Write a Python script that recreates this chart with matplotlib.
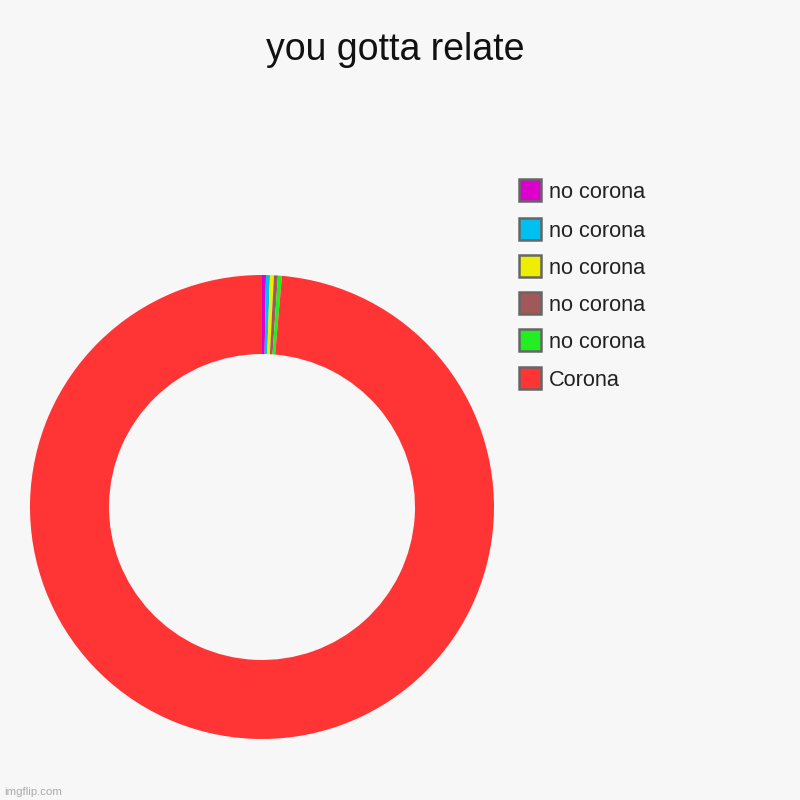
import matplotlib
matplotlib.use("Agg")
import matplotlib.pyplot as plt
from matplotlib.patches import Rectangle

# Data (clockwise from 12 o'clock)
labels = ["no corona", "no corona", "no corona", "no corona", "no corona", "Corona"]
values = [1, 1, 1, 1, 1, 360]
colors = ["#dd00cc", "#00c0f0", "#eeee00", "#a05858", "#22ee22", "#ff3535"]
title = "you gotta relate"

plt.rcParams['font.family'] = ['Liberation Sans', 'DejaVu Sans']
bg = "#f7f7f7"
fig = plt.figure(figsize=(8, 8), dpi=100, facecolor=bg)

# Donut axes: centre (262,507) px, radius 232 px
ax = fig.add_axes([(262 - 232) / 800, (293 - 232) / 800, 464 / 800, 464 / 800])
ax.set_facecolor(bg)
ax.pie(values, colors=colors, startangle=90, counterclock=False, radius=1.0,
       wedgeprops=dict(width=1 - 153 / 232, linewidth=0))
ax.set_xlim(-1, 1)
ax.set_ylim(-1, 1)
ax.set_aspect('equal')
ax.axis('off')

# Title
fig.text(395 / 800, 1 - 60 / 800, title, ha='center', va='baseline',
         fontsize=27, color='#111111')

# Legend (top row = magenta ... bottom = Corona)
row_y = [190, 229, 266, 303, 340, 378]
for i, (lab, col) in enumerate(zip(labels, colors)):
    yc = row_y[i]
    fig.add_artist(Rectangle((519 / 800, 1 - (yc + 11) / 800), 22 / 800, 22 / 800,
                             transform=fig.transFigure, facecolor=col,
                             edgecolor='#666666', linewidth=1.8))
    fig.text(549 / 800, 1 - yc / 800, lab, ha='left', va='center_baseline',
             fontsize=15.7, color='#222222')

# Watermark
fig.text(4 / 800, 1 - 795 / 800, "imgflip.com", ha='left', va='baseline',
         fontsize=8.2, color='#aaaaaa')

fig.savefig("out.png", dpi=100, facecolor=bg)
